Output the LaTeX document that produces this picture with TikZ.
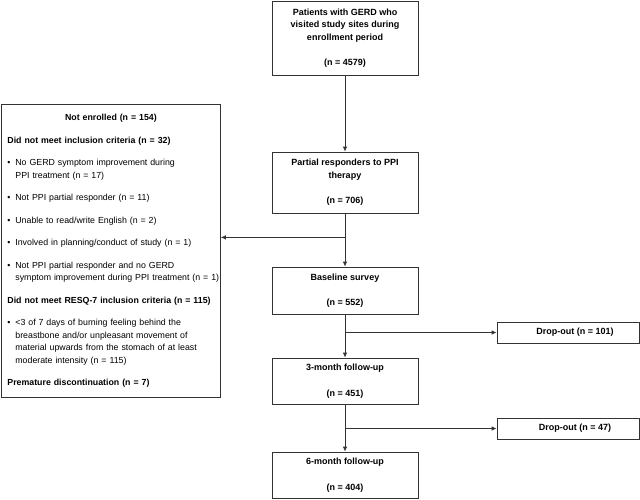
\documentclass[tikz,border=0pt]{standalone}
\usepackage{fontspec}
\setmainfont{Liberation Sans}
\usetikzlibrary{calc,arrows.meta}
\tikzset{>={Latex[length=5pt,width=4.5pt]}}
\tikzset{
  flowbox/.style={draw=black!80, line width=0.8pt, minimum width=146pt, inner sep=0pt,
    align=center, font=\bfseries\fontsize{9}{12.5}\selectfont},
  dropbox/.style={draw=black!80, line width=0.8pt, minimum width=142pt, minimum height=21pt,
    inner sep=0pt, font=\bfseries\fontsize{9}{10}\selectfont},
  flow/.style={->, line width=0.8pt, black!80}
}
\newcommand{\bitem}[1]{\par\hangindent=8pt\hangafter=1\noindent\makebox[8pt][l]{\textbullet}#1}

\begin{document}
\begin{tikzpicture}[x=1pt,y=-1pt]
    \useasboundingbox (0,0) rectangle (640,499);
    \node[flowbox, minimum height=74pt] (pat) at (345,38)
      {Patients with GERD who\\visited study sites during\\enrollment period\\[13pt](n = 4579)};
    \node[flowbox, minimum height=61pt] (partial) at (345,182.5)
      {Partial responders to PPI\\therapy\\[13pt](n = 706)};
    \node[flowbox, minimum height=47pt] (baseline) at (345,290.5)
      {Baseline survey\\[13pt](n = 552)};
    \node[flowbox, minimum height=46pt] (fu3) at (345,381)
      {3-month follow-up\\[13pt](n = 451)};
    \node[flowbox, minimum height=46pt] (fu6) at (345,475)
      {6-month follow-up\\[13pt](n = 404)};
    \node[dropbox] (drop1) at (568,332.5) {\hspace{14pt}Drop-out (n = 101)};
    \node[dropbox] (drop2) at (568,428.5) {\hspace{14pt}Drop-out (n = 47)};
    \node[draw=black!80, line width=0.8pt, anchor=north west, text width=207pt,
      minimum height=293pt, inner xsep=6pt, inner ysep=0pt, align=left,
      font=\fontsize{8.8}{12.5}\selectfont] (excl) at (1,104) {%
      \setlength{\parskip}{10pt}\setlength{\parindent}{0pt}%
      {\centering\bfseries Not enrolled (n = 154)\par}
      \textbf{Did not meet inclusion criteria (n = 32)}
      \bitem{No GERD symptom improvement during\newline PPI treatment (n = 17)}
      \bitem{Not PPI partial responder (n = 11)}
      \bitem{Unable to read/write English (n = 2)}
      \bitem{Involved in planning/conduct of study (n = 1)}
      \bitem{Not PPI partial responder and no GERD\newline\mbox{symptom improvement during PPI treatment (n = 1)}}
      \par\textbf{Did not meet RESQ-7 inclusion criteria (n = 115)}
      \bitem{<3 of 7 days of burning feeling behind the\newline breastbone and/or unpleasant movement of\newline material upwards from the stomach of at least\newline moderate intensity (n = 115)}
      \par\textbf{Premature discontinuation (n = 7)}};
    \coordinate (s1) at ($(partial.south)+(0,24)$);
    \coordinate (s2) at (baseline.south |- drop1.west);
    \coordinate (s3) at (fu3.south |- drop2.west);
    \draw[flow] (pat) -- (partial);
    \draw[flow] (partial) -- (baseline);
    \draw[flow] (s1) -- (s1 -| excl.east);
    \draw[flow] (baseline) -- (fu3);
    \draw[flow] (s2) -- (drop1.west);
    \draw[flow] (fu3) -- (fu6);
    \draw[flow] (s3) -- (drop2.west);
\end{tikzpicture}
\end{document}
